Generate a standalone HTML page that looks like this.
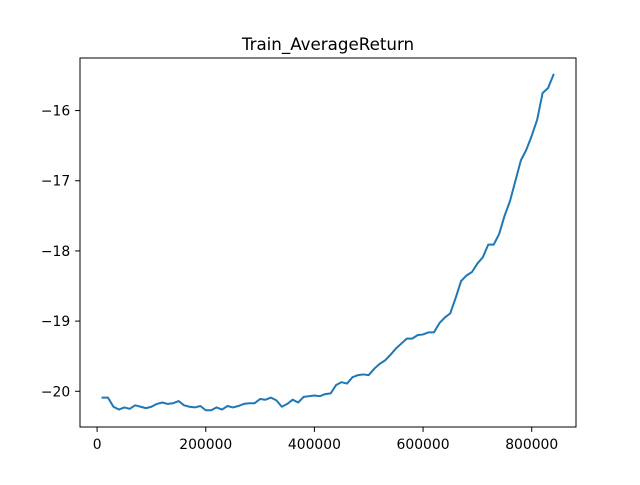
<!DOCTYPE html>
<html><head><meta charset="utf-8"><style>
html,body{margin:0;padding:0;background:#fff;}
svg text{font-family:"DejaVu Sans","Liberation Sans",sans-serif;fill:#000;}
</style></head><body>
<svg id="chart" width="640" height="480" xmlns="http://www.w3.org/2000/svg">
<rect width="640" height="480" fill="#fff"/>
<text x="328" y="50" font-size="16.7" text-anchor="middle">Train_AverageReturn</text>
<g id="ticks"></g>
<path id="line" fill="none" stroke="#1f77b4" stroke-width="2" stroke-linejoin="round" stroke-linecap="square"/>
<rect x="80" y="58" width="496" height="369" fill="none" stroke="#000" stroke-width="1"/>
</svg>
<script>
const stepStart = 10000;
const stepSize = 10000;
const returns = [-20.09,-20.09,-20.22,-20.26,-20.23,-20.25,-20.2,-20.22,-20.24,-20.22,
-20.18,-20.16,-20.18,-20.17,-20.14,-20.2,-20.22,-20.23,-20.21,-20.27,
-20.27,-20.23,-20.26,-20.21,-20.23,-20.21,-20.18,-20.17,-20.17,-20.11,
-20.12,-20.09,-20.13,-20.22,-20.18,-20.12,-20.16,-20.08,-20.07,-20.06,
-20.07,-20.04,-20.03,-19.91,-19.87,-19.89,-19.8,-19.77,-19.76,-19.77,
-19.68,-19.61,-19.56,-19.48,-19.39,-19.32,-19.25,-19.25,-19.2,-19.19,
-19.16,-19.16,-19.03,-18.95,-18.89,-18.67,-18.43,-18.35,-18.3,-18.18,
-18.09,-17.91,-17.91,-17.76,-17.5,-17.29,-17.0,-16.71,-16.56,-16.36,
-16.13,-15.75,-15.68,-15.49];
const xTicks = [0,200000,400000,600000,800000];
const yTicks = [-20,-19,-18,-17,-16];
const yTickLabels = ["\u221220","\u221219","\u221218","\u221217","\u221216"];

const L=80,R=576,T=58,B=427;
const steps = returns.map((v,i)=>stepStart+i*stepSize);
const xmin0=Math.min(...steps), xmax0=Math.max(...steps);
const ymin0=Math.min(...returns), ymax0=Math.max(...returns);
const xp=(xmax0-xmin0)*0.05, yp=(ymax0-ymin0)*0.05;
const xmin=xmin0-xp, xmax=xmax0+xp, ymin=ymin0-yp, ymax=ymax0+yp;
const sx=v=>L+(v-xmin)/(xmax-xmin)*(R-L);
const sy=v=>B-(v-ymin)/(ymax-ymin)*(B-T);
const NS='http://www.w3.org/2000/svg';
const g=document.getElementById('ticks');
xTicks.forEach(t=>{
  const x=sx(t);
  const ln=document.createElementNS(NS,'line');
  ln.setAttribute('x1',x);ln.setAttribute('x2',x);ln.setAttribute('y1',B);ln.setAttribute('y2',B+4.9);
  ln.setAttribute('stroke','#000');
  
  
  g.appendChild(ln);
  const tx=document.createElementNS(NS,'text');
  tx.setAttribute('x',x);tx.setAttribute('y',B+22);tx.setAttribute('font-size','13.9');tx.setAttribute('text-anchor','middle');
  tx.textContent=String(t);
  
  
  g.appendChild(tx);
});
yTicks.forEach((t,i)=>{
  const y=sy(t);
  const ln=document.createElementNS(NS,'line');
  ln.setAttribute('x1',L-4.9);ln.setAttribute('x2',L);ln.setAttribute('y1',y);ln.setAttribute('y2',y);
  ln.setAttribute('stroke','#000');
  
  
  g.appendChild(ln);
  const tx=document.createElementNS(NS,'text');
  tx.setAttribute('x',L-9.8);tx.setAttribute('y',y+5);tx.setAttribute('font-size','13.9');tx.setAttribute('text-anchor','end');
  tx.textContent=yTickLabels[i];
  
  
  g.appendChild(tx);
});
document.getElementById('line').setAttribute('d',returns.map((v,i)=>(i?'L':'M')+sx(steps[i]).toFixed(2)+','+sy(v).toFixed(2)).join(' '));
</script>
</body></html>
